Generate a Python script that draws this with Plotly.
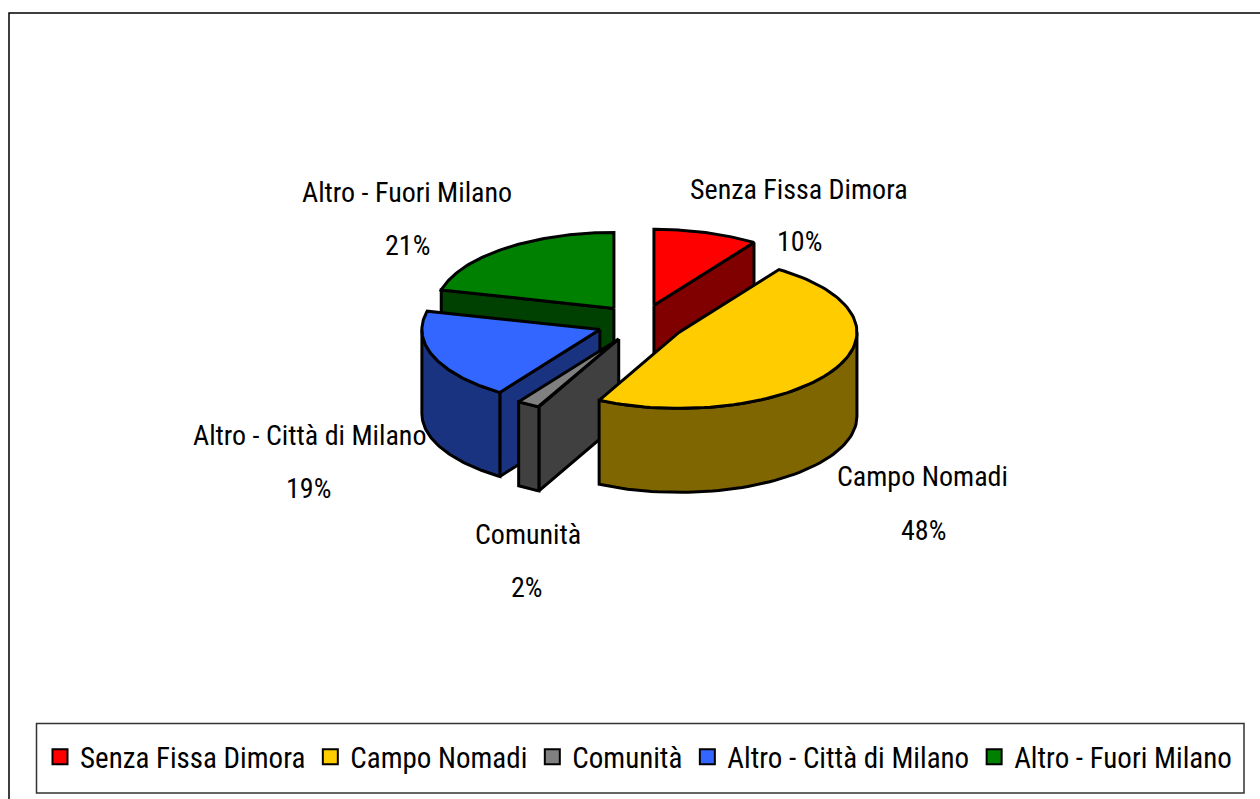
import numpy as np
import plotly.graph_objects as go

categories = ["Senza Fissa Dimora", "Campo Nomadi", "Comunità", "Altro - Città di Milano", "Altro - Fuori Milano"]
shares = [9.5, 47.9, 2.1, 19.4, 21.1]
top_colors = ["#FF0000", "#FFCC00", "#808080", "#3366FF", "#008000"]
side_colors = ["#800000", "#806600", "#404040", "#1A3380", "#004000"]
draw_order = [4, 0, 3, 2, 1]

# label anchor positions (page pixels): name line, percent line
label_pos = [(799, 189, 799, 241), (922, 476, 923, 530), (528, 534, 527, 587),
             (309, 435, 308, 488), (407, 192, 407, 245)]

W, H = 1260, 799
CX, CY, RX, RY, DEPTH, EXPLODE, EXPLODE_Y = 641, 323, 178, 76, 84, 44, 18.5
FONT = "Roboto Condensed, Liberation Sans, sans-serif"
LABEL_FS = 28
LEGEND_FS = 29
LINE = dict(color="black", width=3)


def pt(ox, oy, deg):
    t = np.radians(deg)
    return ox + RX * np.sin(t), oy - RY * np.cos(t)


fig = go.Figure()


def poly(xs, ys, color, group):
    fig.add_trace(go.Scatter(x=list(xs) + [xs[0]], y=list(ys) + [ys[0]], mode="lines", fill="toself",
                             fillcolor=color, line=LINE, showlegend=False, hoverinfo="skip",
                             legendgroup=group))


edges = np.concatenate([[0], np.cumsum(shares)]) * 3.6
for i in draw_order:
    a, b = edges[i], edges[i + 1]
    mid = np.radians((a + b) / 2)
    ox = CX + EXPLODE * np.sin(mid)
    oy = CY - EXPLODE_Y * np.cos(mid)
    name = categories[i]
    # radial walls facing the viewer
    for ang, visible in ((a, np.sin(np.radians(a)) < -1e-6), (b, np.sin(np.radians(b)) > 1e-6)):
        if visible:
            ex, ey = pt(ox, oy, ang)
            poly([ox, ex, ex, ox], [oy, ey, ey + DEPTH, oy + DEPTH], side_colors[i], name)
    # outer rim (front half of the ellipse only)
    lo, hi = max(a, 90), min(b, 270)
    if hi > lo:
        th = np.linspace(lo, hi, 60)
        rx, ry = pt(ox, oy, th)
        poly(np.r_[rx, rx[::-1]], np.r_[ry, ry[::-1] + DEPTH], side_colors[i], name)
    # top face
    th = np.linspace(a, b, 90)
    tx, ty = pt(ox, oy, th)
    poly(np.r_[ox, tx], np.r_[oy, ty], top_colors[i], name)

# legend entries
for name, c in zip(categories, top_colors):
    fig.add_trace(go.Scatter(x=[None], y=[None], mode="markers", name=name, legendgroup=name,
                             marker=dict(symbol="square", size=15, color=c, line=dict(color="black", width=2))))

for name, s, (x1, y1, x2, y2) in zip(categories, shares, label_pos):
    fig.add_annotation(x=x1, y=y1, text=name, showarrow=False, font=dict(family=FONT, size=LABEL_FS, color="black"))
    fig.add_annotation(x=x2, y=y2, text=f"{round(s)}%", showarrow=False, font=dict(family=FONT, size=LABEL_FS, color="black"))

fig.add_shape(type="rect", x0=9, y0=13, x1=W + 40, y1=H + 40, line=dict(color="black", width=1.5), layer="below")
fig.add_shape(type="rect", x0=36.5, y0=723.5, x1=1244, y1=793, line=dict(color="#333333", width=1.5), layer="below")

fig.update_xaxes(range=[0, W], visible=False, fixedrange=True)
fig.update_yaxes(range=[H, 0], visible=False, fixedrange=True)
fig.update_layout(
    width=W, height=H, margin=dict(l=0, r=0, t=0, b=0), autosize=False,
    paper_bgcolor="white", plot_bgcolor="white",
    legend=dict(orientation="h", x=40 / W, xanchor="left", y=1 - 757 / H, yanchor="middle",
                font=dict(family=FONT, size=LEGEND_FS, color="black"), bgcolor="rgba(0,0,0,0)",
                itemclick=False, itemdoubleclick=False, itemwidth=30, traceorder="normal"),
)
fig.write_html("out.html", config={"displayModeBar": False},
               post_script="document.body.style.margin='0';")
